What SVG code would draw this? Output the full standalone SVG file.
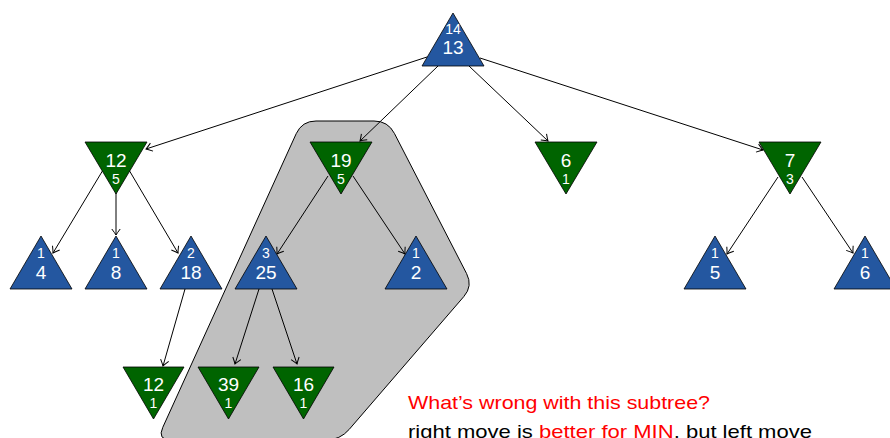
<svg xmlns="http://www.w3.org/2000/svg" width="890" height="438" viewBox="0 0 890 438">
<defs>
<marker id="arr" viewBox="-8 -6 10 12" refX="0" refY="0" markerWidth="10" markerHeight="12" markerUnits="userSpaceOnUse" orient="auto">
<path d="M-6,-4.2 Q-1.8,-1 0,0 Q-1.8,1 -6,4.2" fill="none" stroke="#000" stroke-width="1"/>
</marker>
</defs>
<style>
.mx{fill:#2457a0;stroke:#000;stroke-width:0.8}
.mn{fill:#006400;stroke:#000;stroke-width:0.8}
.big{font-family:"Liberation Sans",Arial,sans-serif;font-size:19px;fill:#fff;text-anchor:middle}
.sm{font-family:"Liberation Sans",Arial,sans-serif;font-size:14px;fill:#fff;text-anchor:middle}
.e{stroke:#000;stroke-width:1;fill:none;marker-end:url(#arr)}
.t{font-family:"Liberation Sans",Arial,sans-serif;font-size:19px}
</style>
<rect width="890" height="438" fill="#fff"/>
<path id="highlight" d="M316,121 L374,121 Q388,121 394.4,133.4 L466.6,273.6 Q473,286 463.8,296.6 L349.2,429.4 Q340,440 326,440 L171,440 Q157,440 162.8,427.3 L296.2,133.7 Q302,121 316,121 Z" fill="#bfbfbf" stroke="#000" stroke-width="1"/>
<g id="connectors">
<line class="e" x1="427" y1="57" x2="146" y2="149"/>
<line class="e" x1="438" y1="66" x2="360" y2="141"/>
<line class="e" x1="469" y1="66" x2="548" y2="141"/>
<line class="e" x1="480" y1="58" x2="763" y2="150"/>
<line class="e" x1="103" y1="170" x2="53" y2="253"/>
<line class="e" x1="116" y1="193" x2="116" y2="235"/>
<line class="e" x1="129" y1="170" x2="178" y2="253"/>
<line class="e" x1="328" y1="176" x2="277" y2="254"/>
<line class="e" x1="353" y1="176" x2="405" y2="254"/>
<line class="e" x1="778" y1="177" x2="727" y2="254"/>
<line class="e" x1="802" y1="177" x2="853" y2="253"/>
<line class="e" x1="185" y1="289" x2="163" y2="366"/>
<line class="e" x1="259" y1="289" x2="235" y2="364"/>
<line class="e" x1="272" y1="289" x2="297" y2="364"/>
</g>
<g id="n13"><polygon class="mx" points="453,13 484,66 422,66"/><text class="sm" x="453" y="34">14</text><text class="big" x="453" y="54">13</text></g>
<g id="n12a"><polygon class="mn" points="85,142 147,142 116,194"/><text class="big" x="116" y="167">12</text><text class="sm" x="116" y="184">5</text></g>
<g id="n19"><polygon class="mn" points="310,142 372,142 341,194"/><text class="big" x="341" y="167">19</text><text class="sm" x="341" y="184">5</text></g>
<g id="n6a"><polygon class="mn" points="535,142 597,142 566,194"/><text class="big" x="566" y="167">6</text><text class="sm" x="566" y="184">1</text></g>
<g id="n7"><polygon class="mn" points="759,142 821,142 790,194"/><text class="big" x="790" y="167">7</text><text class="sm" x="790" y="184">3</text></g>
<g id="n4"><polygon class="mx" points="41,236 72,289 10,289"/><text class="sm" x="41" y="258">1</text><text class="big" x="41" y="279">4</text></g>
<g id="n8"><polygon class="mx" points="116,236 147,289 85,289"/><text class="sm" x="116" y="258">1</text><text class="big" x="116" y="279">8</text></g>
<g id="n18"><polygon class="mx" points="191,236 222,289 160,289"/><text class="sm" x="191" y="258">2</text><text class="big" x="191" y="279">18</text></g>
<g id="n25"><polygon class="mx" points="266,236 297,289 235,289"/><text class="sm" x="266" y="258">3</text><text class="big" x="266" y="279">25</text></g>
<g id="n2"><polygon class="mx" points="416,236 447,289 385,289"/><text class="sm" x="416" y="258">1</text><text class="big" x="416" y="279">2</text></g>
<g id="n5"><polygon class="mx" points="715,236 746,289 684,289"/><text class="sm" x="715" y="258">1</text><text class="big" x="715" y="279">5</text></g>
<g id="n6b"><polygon class="mx" points="865,236 896,289 834,289"/><text class="sm" x="865" y="258">1</text><text class="big" x="865" y="279">6</text></g>
<g id="n12b"><polygon class="mn" points="123,367 184,367 153.5,419"/><text class="big" x="153.5" y="391">12</text><text class="sm" x="153.5" y="408">1</text></g>
<g id="n39"><polygon class="mn" points="198,367 259,367 228.5,419"/><text class="big" x="228.5" y="391">39</text><text class="sm" x="228.5" y="408">1</text></g>
<g id="n16"><polygon class="mn" points="273,367 334,367 303.5,419"/><text class="big" x="303.5" y="391">16</text><text class="sm" x="303.5" y="408">1</text></g>
<text class="t" x="408" y="409" fill="#ff0000" textLength="302" lengthAdjust="spacingAndGlyphs">What’s wrong with this subtree?</text>
<text class="t" x="408" y="438" fill="#000" textLength="404" lengthAdjust="spacingAndGlyphs">right move is <tspan fill="#ff0000">better for MIN</tspan>, but left move</text>
</svg>
